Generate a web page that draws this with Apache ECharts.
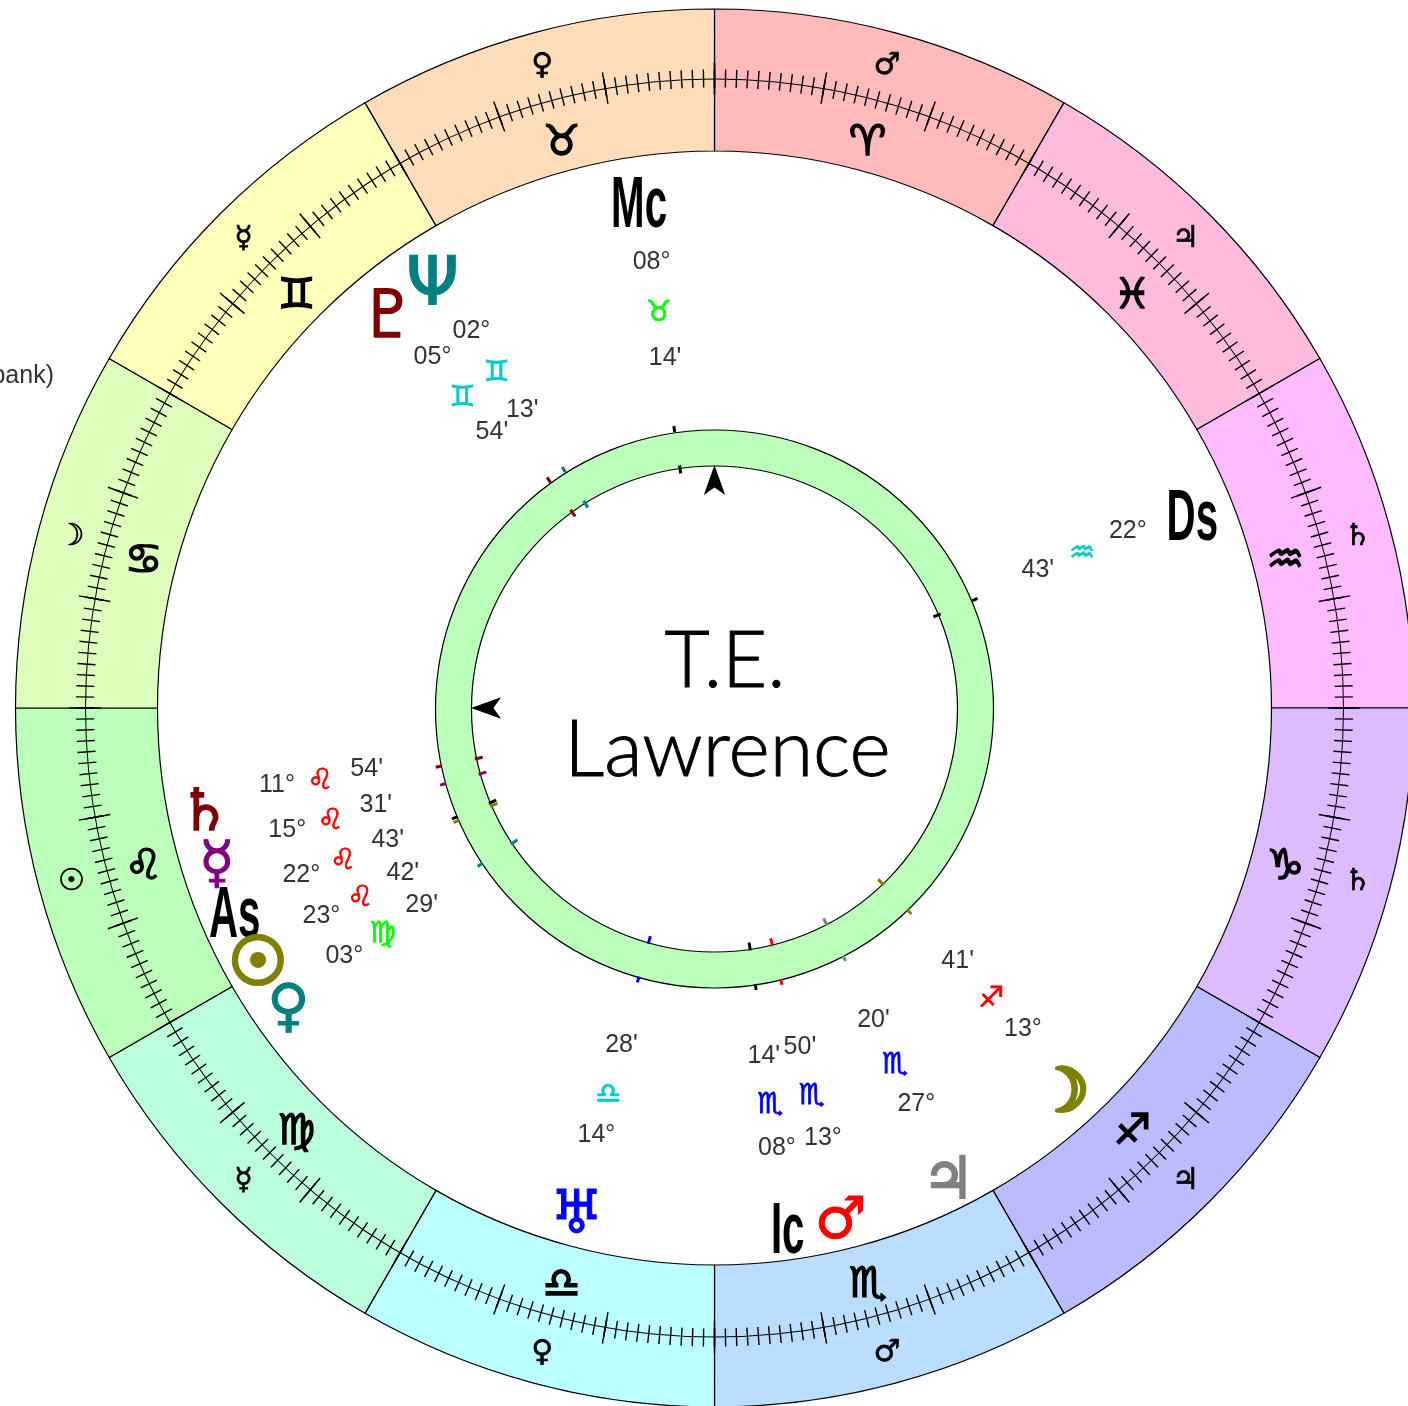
<!DOCTYPE html>
<html>
<head>
<meta charset="utf-8">
<style>html,body{margin:0;padding:0;background:#fff;overflow:hidden}#c{width:1408px;height:1406px}</style>
<script src="https://cdn.jsdelivr.net/npm/echarts@6/dist/echarts.min.js"></script>
</head>
<body>
<div id="c"></div>
<script>
// Zodiac wheel, clockwise from the top
const signNames = ['Aries','Pisces','Aquarius','Capricorn','Sagittarius','Scorpio','Libra','Virgo','Leo','Cancer','Gemini','Taurus'];
const signGlyphs = ['♈','♓','♒','♑','♐','♏','♎','♍','♌','♋','♊','♉'];
const signRulers = ['♂','♃','♄','♄','♃','♂','♀','☿','☉','☽','☿','♀'];
const signFills = ['#FFBBBB','#FFBBDD','#FFBBFF','#DDBBFF','#BBBBFF','#BBDDFF','#BBFFFF','#BBFFDD','#BBFFBB','#DDFFBB','#FFFFBB','#FFDDBB'];

// Bodies and chart points
const bodyNames = ['Mc','Ds','Pluto','Neptune','Saturn','Mercury','As','Sun','Venus','Uranus','Ic','Mars','Jupiter','Moon'];
const bodyGlyphs = ['Mc','Ds','♇','Ψ','♄','☿','As','☉','♀','♅','Ic','♂','♃','☽'];
const bodyColors = ['#000000','#000000','#800000','#008080','#800000','#800080','#000000','#808000','#008080','#0000FF','#000000','#FF0000','#808080','#808000'];
const bodyDegrees = ['08°','22°','05°','02°','11°','15°','22°','23°','03°','14°','08°','13°','27°','13°'];
const bodySigns = ['♉','♒','♊','♊','♌','♌','♌','♌','♍','♎','♏','♏','♏','♐'];
const bodySignColors = ['#00FF00','#00CCCC','#00CCCC','#00CCCC','#FF0000','#FF0000','#FF0000','#FF0000','#00FF00','#00CCCC','#0000FF','#0000FF','#0000FF','#FF0000'];
const bodyMinutes = ["14'","43'","54'","13'","54'","31'","43'","42'","29'","28'","14'","50'","20'","41'"];

// Where each stack sits on the wheel (degrees clockwise from the top, radius in wheel units)
const glyphAngle = [351.5,68.1,320.5,326.5,258.7,252.8,246.8,241,235,195.3,172,166.1,153.5,137.6];
const glyphRadius = [510,515,513,511,520,521,522,522,520,522,526,525,524,516];
const textAngle = [352,66.7,321.3,327.3,260.2,254.2,248.2,242.3,236.3,195.5,171.9,165.8,152.9,136];
const degreeRadius = [452,450,451,450,444,444,445,444,445,442,443,442,443,444];
const signRadius = [403,400,403,403,400,399,400,400,399,397,396,396,396,398];
const minuteRadius = [355,352,356,356,353,352,352,352,352,348,350,348,349,350];
const ringAngle = [351.8,67.4,324,327.7,258,254.3,247.1,246.3,236.2,195.7,171.6,166.3,152.6,136.3];

const WHEEL = {cx:714.5, cy:708, R:699};
const isPoint = n => ['Mc','Ds','As','Ic'].includes(n);
const glyphStyle = {
  Pluto:{size:66,lw:1.5,dy:8}, Neptune:{size:66,lw:2,dy:5,regular:true}, Saturn:{size:58,lw:1.5,dy:5}, Mercury:{size:58,lw:1,dy:5},
  Sun:{size:66,lw:4,dy:6}, Venus:{size:58,lw:1,dy:4}, Uranus:{size:60,lw:1,dy:6}, Mars:{size:58,lw:1,dy:5},
  Jupiter:{size:58,lw:2,dy:6}, Moon:{size:60,lw:4,dy:6}
};

function textSeries(name, rows, styleOf, z){
  return {
    type:'custom', name, coordinateSystem:'polar', silent:true, z:z||10, clip:false,
    encode:{radius:0, angle:1},
    data: rows.map(r=>[r[1],r[0]]),
    renderItem(params, api){
      const i = params.dataIndex;
      const p = api.coord([api.value(0), api.value(1)]);
      const s = styleOf(i);
      const st = {text:rows[i][2], fill:s.fill, font:s.font, textAlign:'center', textVerticalAlign:'middle'};
      if(s.lw){ st.stroke = s.fill; st.lineWidth = s.lw; }
      return {type:'text', x:p[0], y:p[1]+(s.dy||0), scaleX:s.scaleX||1, scaleY:s.scaleY||1, style:st};
    }
  };
}
function tickSeries(name, r0, r1){
  return {
    type:'custom', name, coordinateSystem:'polar', silent:true, z:9, clip:false,
    encode:{radius:0, angle:1},
    data: ringAngle.map(a=>[r0,a]),
    renderItem(params, api){
      const a = api.value(1);
      const p0 = api.coord([r0,a]), p1 = api.coord([r1,a]);
      return {type:'line', shape:{x1:p0[0],y1:p0[1],x2:p1[0],y2:p1[1]},
        style:{stroke:bodyColors[params.dataIndex], lineWidth:3}};
    }
  };
}
const LABEL_FONT = '25px "Liberation Sans", sans-serif';
const sym = (size, bold) => (bold?'bold ':'')+size+'px "DejaVu Sans", sans-serif';

const option = {
  animation:false,
  backgroundColor:'#ffffff',
  polar:{center:[WHEEL.cx,WHEEL.cy], radius:WHEEL.R},
  angleAxis:{type:'value', min:0, max:360, startAngle:90, clockwise:true, show:false},
  radiusAxis:{type:'value', min:0, max:WHEEL.R, show:false},
  graphic:[
    {type:'text', x:725, y:662, z:20, silent:true, style:{text:'T.E.', font:'300 78px Lato, sans-serif', fill:'#000', stroke:'#000', lineWidth:0.9, textAlign:'center', textVerticalAlign:'middle'}},
    {type:'text', x:727.5, y:751, z:20, silent:true, style:{text:'Lawrence', font:'300 79px Lato, sans-serif', fill:'#000', stroke:'#000', lineWidth:0.9, textAlign:'center', textVerticalAlign:'middle'}},
    {type:'text', x:54, y:376, z:20, silent:true, style:{text:'bank)', font:LABEL_FONT, fill:'#333', textAlign:'right', textVerticalAlign:'middle'}}
  ],
  series:[
    {type:'pie', name:'Zodiac', center:[WHEEL.cx,WHEEL.cy], radius:[557,WHEEL.R], startAngle:90, clockwise:true, silent:true, z:1,
      label:{show:false}, labelLine:{show:false}, emphasis:{disabled:true},
      itemStyle:{borderColor:'#000', borderWidth:1.2},
      data:signNames.map((n,i)=>({name:n, value:30, itemStyle:{color:signFills[i]}}))},
    {type:'pie', name:'Aspect ring', center:[WHEEL.cx,WHEEL.cy+1], radius:[243,279], silent:true, z:1,
      label:{show:false}, labelLine:{show:false}, emphasis:{disabled:true},
      itemStyle:{color:'#BBFFBB', borderColor:'#000', borderWidth:1.2},
      data:[{name:'ring', value:1}]},
    {type:'gauge', name:'Degrees', center:[WHEEL.cx,WHEEL.cy], radius:629.5, min:0, max:360, startAngle:90, endAngle:-270, clockwise:true,
      splitNumber:36, silent:true, z:3,
      axisLine:{lineStyle:{width:1, color:[[1,'#000']]}},
      splitLine:{distance:-17, length:32, lineStyle:{color:'#000', width:1.4}},
      axisTick:{splitNumber:10, distance:-10, length:18, lineStyle:{color:'#000', width:1.4}},
      axisLabel:{show:false}, pointer:{show:false}, anchor:{show:false}, title:{show:false}, detail:{show:false},
      data:[{value:0}]},
    textSeries('Sign glyphs', signGlyphs.map((g,i)=>[15+30*i,591,g]), ()=>({fill:'#000', font:sym(42,true), lw:1.5, dy:7})),
    textSeries('Rulers', signRulers.map((g,i)=>[15+30*i,666,g]), ()=>({fill:'#000', font:sym(30,false), lw:0.7, dy:2})),
    textSeries('Body glyphs', bodyGlyphs.map((g,i)=>[glyphAngle[i],glyphRadius[i],g]), i=>{
      if(isPoint(bodyNames[i])) return {fill:bodyColors[i], font:'bold 72px "Liberation Sans Narrow","Liberation Sans",sans-serif', scaleX:0.56, dy:4};
      const g = glyphStyle[bodyNames[i]];
      return {fill:bodyColors[i], font:sym(g.size,!g.regular), lw:g.lw, dy:g.dy};
    }),
    textSeries('Degrees', bodyDegrees.map((t,i)=>[textAngle[i],degreeRadius[i],t]), ()=>({fill:'#333', font:LABEL_FONT, dy:1.5})),
    textSeries('Signs', bodySigns.map((t,i)=>[textAngle[i],signRadius[i],t]), i=>({fill:bodySignColors[i], font:sym(29,true), lw:0.8, dy:5})),
    textSeries('Minutes', bodyMinutes.map((t,i)=>[textAngle[i],minuteRadius[i],t]), ()=>({fill:'#333', font:LABEL_FONT, dy:1.5})),
    tickSeries('Inner ticks', 237, 245),
    tickSeries('Outer ticks', 279, 285),
    {type:'scatter', name:'Axis arrows', coordinateSystem:'polar', silent:true, z:9, symbol:'arrow', clip:false,
      itemStyle:{color:'#000', opacity:1},
      data:[
        {value:[243,0], symbolSize:[16,30], symbolRotate:0},
        {value:[243.5,270], symbolSize:[16,30], symbolRotate:90}
      ]}
  ]
};
const chart = echarts.init(document.getElementById('c'), null, {renderer:'canvas', width:1408, height:1406});
chart.setOption(option);
</script>
</body>
</html>
